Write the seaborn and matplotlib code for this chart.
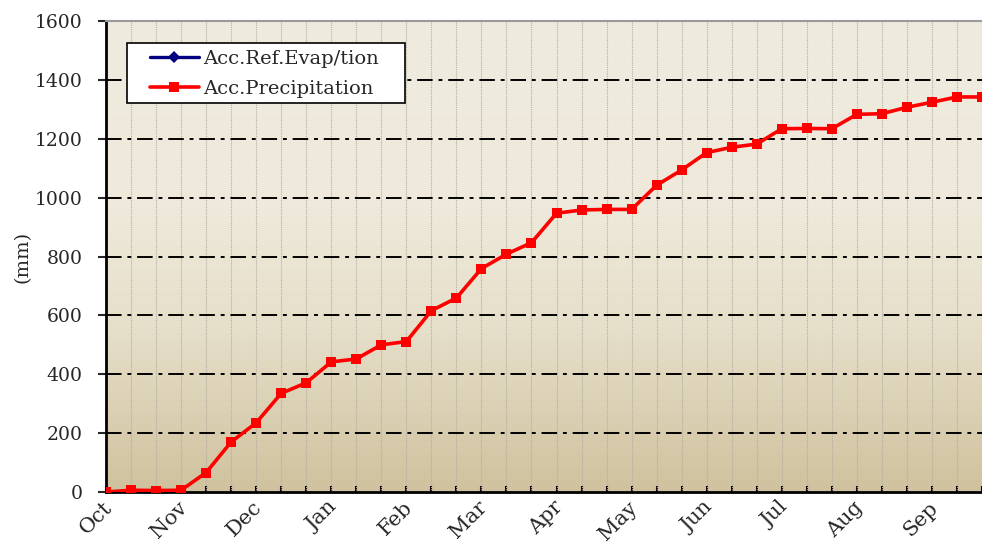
import numpy as np
import pandas as pd
import matplotlib
matplotlib.use("Agg")
import matplotlib.pyplot as plt
import matplotlib.transforms as mtransforms
import seaborn as sns
from matplotlib.colors import LinearSegmentedColormap
from matplotlib.lines import Line2D
from matplotlib.patches import Rectangle

# ---- data ----
months = ["Oct", "Nov", "Dec", "Jan", "Feb", "Mar", "Apr", "May", "Jun", "Jul", "Aug", "Sep"]
acc_precip = [0, 6, 5, 6, 66, 170, 235, 335, 371, 442, 452, 500,
              511, 616, 659, 759, 808, 847, 947, 958, 960, 960, 1042, 1094,
              1153, 1171, 1182, 1234, 1235, 1234, 1283, 1285, 1307, 1324, 1342, 1342]
acc_evap = [0] + [np.nan] * 35
dekads = list(range(len(acc_precip)))
series_names = ["Acc.Ref.Evap/tion", "Acc.Precipitation"]

df = pd.DataFrame({"dekad": dekads, "precip": acc_precip, "evap": acc_evap})

sns.set_style("ticks")
plt.rcParams["font.family"] = ["DejaVu Serif"]

W, H = 982, 549
fig = plt.figure(figsize=(W / 100, H / 100), dpi=100)
ax = fig.add_axes([106 / W, (H - 492) / H, (982 - 106) / W, (492 - 21) / H])

xmax = (982 - 106) / 25.2
ymax = 1600

# background gradient (light on top, tan at bottom)
cmap = LinearSegmentedColormap.from_list(
    "bg", [(0.0, "#EFEBDF"), (0.40, "#EEE9DA"), (0.65, "#E6DFCA"), (1.0, "#D0C29E")])
grad = np.linspace(0, 1, 256).reshape(-1, 1)
ax.imshow(grad, extent=[-1, xmax + 2, 0, ymax], aspect="auto", cmap=cmap,
          zorder=0, origin="upper", interpolation="bilinear")

# grid lines
for d in dekads[1:]:
    ax.axvline(d, color="#B3AEA2", lw=0.8, ls=(0, (1, 1)), zorder=1)
for yv in range(200, 1600, 200):
    ax.axhline(yv, color="black", lw=1.4, ls=(0, (8, 3, 2, 3)), zorder=1)

sns.lineplot(data=df, x="dekad", y="evap", ax=ax, color="#000080", lw=2.4,
             marker="D", markersize=6, markeredgewidth=0, zorder=3, legend=False)
sns.lineplot(data=df, x="dekad", y="precip", ax=ax, color="#FF0000", lw=2.6,
             marker="s", markersize=7.5, markeredgewidth=0, zorder=4, legend=False)

ax.set_xlim(0, xmax)
ax.set_ylim(0, ymax)

# ticks
ax.set_xticks(dekads)
ax.set_xticklabels([months[i // 3] if i % 3 == 0 else "" for i in dekads],
                   rotation=45, ha="right", va="center", rotation_mode="anchor", fontsize=15)
ax.tick_params(axis="x", direction="in", length=4, width=1.5, pad=4, color="black")
offset = mtransforms.ScaledTranslation(3 / 100, -7 / 100, fig.dpi_scale_trans)
for lab in ax.get_xticklabels():
    lab.set_transform(lab.get_transform() + offset)
ax.set_yticks(range(0, 1601, 200))
ax.set_yticklabels([str(v) for v in range(0, 1601, 200)], fontsize=13.5)
ax.tick_params(axis="y", direction="out", length=6, width=1.5, pad=11)

ax.set_xlabel("")
ax.set_ylabel("(mm)", fontsize=14, labelpad=2)

for s in ["left", "bottom"]:
    ax.spines[s].set_color("black")
    ax.spines[s].set_linewidth(2)
ax.spines["top"].set_visible(True)
ax.spines["top"].set_color("#9A9A9A")
ax.spines["top"].set_linewidth(1.5)
ax.spines["right"].set_visible(False)

# legend frame drawn separately (wide horizontal padding as in the reference)
frame = Rectangle((127 / W, 1 - 103 / H), (405 - 127) / W, (103 - 43) / H,
                  transform=fig.transFigure, facecolor="white", edgecolor="black",
                  lw=1.2, zorder=5)
fig.add_artist(frame)

handles = [
    Line2D([], [], color="#000080", lw=2.4, marker="D", markersize=6, markeredgewidth=0),
    Line2D([], [], color="#FF0000", lw=2.6, marker="s", markersize=7, markeredgewidth=0),
]
leg = fig.legend(handles, series_names,
                 loc="center left", bbox_to_anchor=(150 / W, 1 - 74 / H),
                 fontsize=14, frameon=False, handlelength=2.5, handletextpad=0.25,
                 borderpad=0, labelspacing=0.62, borderaxespad=0)
leg.set_zorder(6)

fig.savefig("out.png", dpi=100)
